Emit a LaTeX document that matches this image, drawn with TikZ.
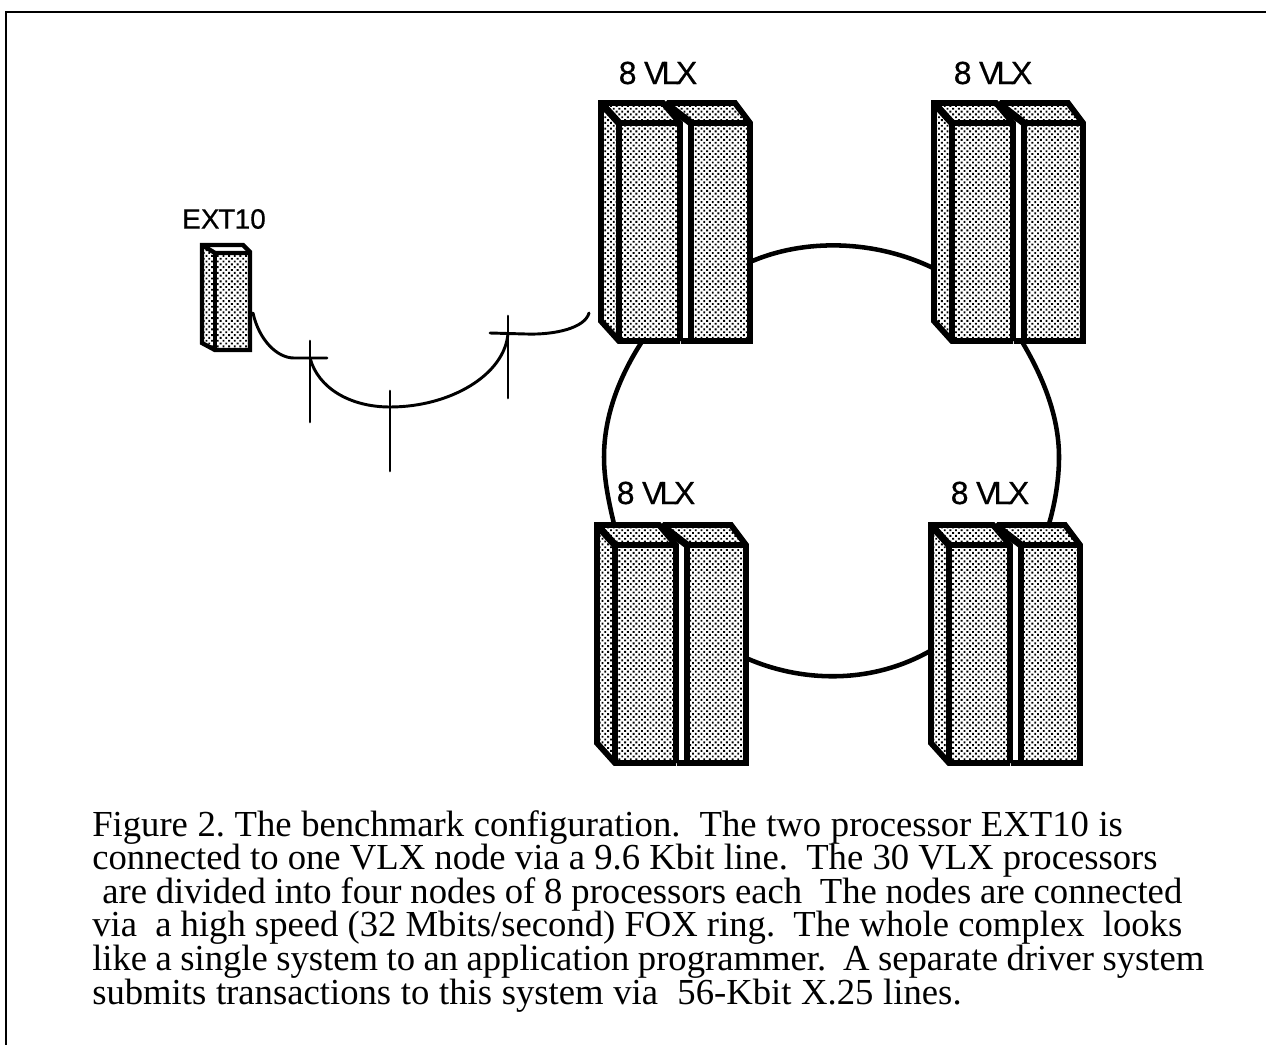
\documentclass[tikz,border=0pt]{standalone}
\usepackage{fontspec}
\setmainfont{Liberation Serif}
\newfontfamily\labelfont[FakeBold=0.5]{Liberation Sans}
\usetikzlibrary{patterns.meta}
\tikzset{
  x=0.75pt,y=-0.75pt,
  halftone/.style={pattern={Dots[distance=3pt,radius=1.0pt,angle=45]},pattern color=black},
  cabline/.style={line width=4.4pt,line join=miter,black},
  cabdiag/.style={line width=5.4pt,line join=bevel,black},
  extline/.style={line width=3.3pt,line join=miter,black},
  wire/.style={line width=2.2pt,black,line cap=round},
  ring/.style={line width=3.4pt,black,line cap=butt},
  tick/.style={line width=2pt,black,line cap=round},
  caption/.style={anchor=base west,inner sep=0pt,font=\fontsize{27.5}{27.5}\selectfont},
  vlxlabel/.style={inner sep=0pt,font=\labelfont\fontsize{24}{24}\selectfont},
  extlabel/.style={inner sep=0pt,font=\labelfont\fontsize{21}{21}\selectfont},
}
\newcommand{\vlxunit}[2]{%
\begin{scope}[shift={(#1,#2)}]
  % second cabinet
  \fill[halftone] (66,0) -- (134,0) -- (149,20) -- (90,20) -- cycle;
  \fill[halftone] (90,20) rectangle (149,238);
  \draw[cabline] (66,0) -- (134,0) -- (149,20) -- (149,238) -- (80,238);
  \draw[cabline] (90,20) -- (149,20);
  \draw[cabdiag] (64,0) -- (90,20);
  \draw[cabline] (90,20) -- (90,238);
  % first cabinet
  \fill[halftone] (0,0) -- (62,0) -- (79,20) -- (18,20) -- cycle;
  \fill[halftone] (0,0) -- (18,20) -- (18,238) -- (0,218) -- cycle;
  \fill[halftone] (18,20) rectangle (79,238);
  \draw[cabline] (79,238) -- (18,238) -- (0,218) -- (0,0) -- (62,0) -- (79,20) -- (79,238);
  \draw[cabline] (18,20) -- (79,20);
  \draw[cabdiag] (0,0) -- (18,20);
  \draw[cabline] (18,20) -- (18,238);
\end{scope}}
\newcommand{\vlxtext}{8\kern-1pt\ V\kern-3pt L\kern-2.5pt X}
\newcommand{\capline}[2]{\frenchspacing\hbox to #1pt{#2}}
\begin{document}
\begin{tikzpicture}
\useasboundingbox (0,0) rectangle (1266,1045);
\fill[white] (0,0) rectangle (1266,1045);
% frame
\draw[line width=2.2pt,black] (1266,12) -- (6,12) -- (6,1045);
% ring anchors
\coordinate (ringTLr) at (750,262);
\coordinate (ringTRl) at (933,268);
\coordinate (ringBLr) at (746,658);
\coordinate (ringBRl) at (930,651);
\coordinate (ringTLb) at (643,340);
\coordinate (ringTLm) at (604,457);
\coordinate (ringBLt) at (614,524);
\coordinate (ringTRb) at (1021,340);
\coordinate (ringTRm) at (1059,457);
\coordinate (ringBRt) at (1049,524);
\draw[ring] (ringTLr) .. controls (805,238) and (875,240) .. (ringTRl);
\draw[ring] (ringBLr) .. controls (800,682) and (870,685) .. (ringBRl);
\draw[ring] (ringTLb) .. controls (620,375) and (604,415) .. (ringTLm) .. controls (604,480) and (609,503) .. (ringBLt);
\draw[ring] (ringTRb) .. controls (1042,375) and (1059,415) .. (ringTRm) .. controls (1059,480) and (1055,503) .. (ringBRt);
% cabinets
\vlxunit{601}{103}
\vlxunit{934}{103}
\vlxunit{597}{525}
\vlxunit{931}{525}
% labels
\node[vlxlabel] (ltl) at (658,73) {\vlxtext};
\node[vlxlabel] (ltr) at (993,73) {\vlxtext};
\node[vlxlabel] (lbl) at (656,493) {\vlxtext};
\node[vlxlabel] (lbr) at (990,493) {\vlxtext};
\node[extlabel] (lext) at (224,219) {EX\kern-1pt T\kern-0.5pt 10};
% EXT10
\fill[halftone] (202,246) -- (215,254) -- (215,350) -- (202,343) -- cycle;
\fill[halftone] (216,254) rectangle (250,350);
\draw[extline] (215,350) -- (202,343) -- (202,245) -- (243,245) -- (250,252) -- (250,350) -- cycle;
\draw[extline] (202,245) -- (215,253) -- (250,253);
\draw[extline] (215,253) -- (215,350);
% drops
\coordinate (d1) at (310,358);
\coordinate (d2) at (390,407);
\coordinate (d3) at (508,333);
\coordinate (s) at (253,313);
\coordinate (e) at (589,313);
\coordinate (d1l) at (294,358);
\coordinate (d1r) at (327,358);
\coordinate (d1t) at (310,341);
\coordinate (d1b) at (310,422);
\coordinate (d2t) at (390,391);
\coordinate (d2b) at (390,471);
\coordinate (d3l) at (490,333);
\coordinate (d3r) at (526,334);
\coordinate (d3t) at (508,316);
\coordinate (d3b) at (508,398);
\draw[wire] (s) .. controls (259,340) and (277,358) .. (d1l) -- (d1r);
\draw[wire] (d1) .. controls (318,388) and (350,407) .. (d2) .. controls (450,407) and (505,375) .. (d3);
\draw[wire] (d3l) -- (d3r) .. controls (555,335) and (585,328) .. (e);
\draw[tick] (d1t) -- (d1b);
\draw[tick] (d2t) -- (d2b);
\draw[tick] (d3t) -- (d3b);
% caption
\node[caption] (c1) at (92,836) {\capline{773}{Figure 2. The benchmark configuration.\ \ The two processor EXT10 is}};
\node[caption] (c2) at (92,869) {\capline{799}{connected to one VLX node via a 9.6 Kbit line.\ \ The 30 VLX processors}};
\node[caption] (c3) at (102,903) {\capline{810}{are divided into four nodes of 8 processors each\ \ The nodes are connected}};
\node[caption] (c4) at (92,936) {\capline{817.5}{via\ \ a high speed (32 Mbits/second) FOX ring.\ \ The whole complex\ \ looks}};
\node[caption] (c5) at (92,970) {\capline{834}{like a single system to an application programmer.\ \ A separate driver system}};
\node[caption] (c6) at (92,1004) {\capline{652}{submits transactions to this system via\ \ 56-Kbit X.25 lines.}};
\end{tikzpicture}
\end{document}
